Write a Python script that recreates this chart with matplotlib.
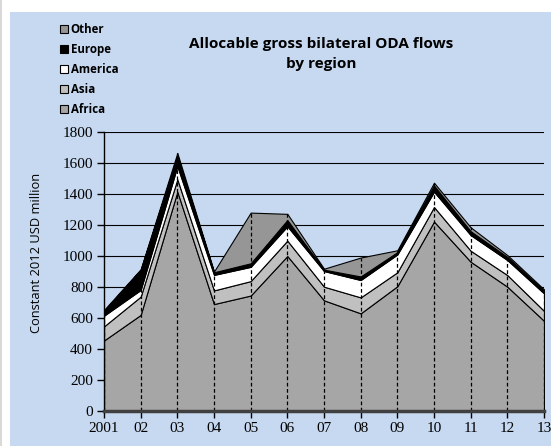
import matplotlib.pyplot as plt
import numpy as np
from matplotlib.patches import Patch, Rectangle

# years (tick labels) and values by region, constant 2012 USD million
years = ["2001", "02", "03", "04", "05", "06", "07", "08", "09", "10", "11", "12", "13"]
africa = [455, 620, 1415, 690, 745, 1000, 714, 630, 805, 1222, 963, 802, 582]
asia = [91, 118, 80, 88, 93, 99, 88, 103, 90, 94, 71, 75, 64]
america = [69, 43, 85, 100, 92, 93, 101, 112, 115, 99, 101, 97, 113]
europe = [30, 129, 65, 17, 23, 40, 9, 23, 15, 40, 25, 20, 16]
other = [7, 5, 20, 5, 327, 40, 6, 122, 12, 18, 25, 12, 10]

names = ["Africa", "Asia", "America", "Europe", "Other"]
colors = ["#a6a6a6", "#c0c0c0", "#ffffff", "#000000", "#969696"]

fig = plt.figure(figsize=(5.51, 4.46), dpi=100)
fig.patch.set_facecolor("white")
# light blue chart area
fig.patches.append(Rectangle((10 / 551, 0), 1, (446 - 12) / 446, transform=fig.transFigure,
                             facecolor="#c6d9f0", edgecolor="none", zorder=-10))
fig.patches.append(Rectangle((0, 0), 2 / 551, 1, transform=fig.transFigure,
                             facecolor="#d9d9d9", edgecolor="none", zorder=-10))

ax = fig.add_axes([104 / 551, 35 / 446, 440 / 551, 279 / 446])
ax.set_facecolor("none")

x = np.arange(len(years))
data = [africa, asia, america, europe, other]
ax.stackplot(x, data, colors=colors, edgecolor="black", linewidth=0.8, zorder=2)

# drop lines
total = np.sum(data, axis=0)
ax.vlines(x, 0, total, colors="black", linestyles=(0, (3, 2)), linewidth=0.9, zorder=3)

ax.set_xlim(0, len(years) - 1)
ax.set_ylim(0, 1800)
ax.set_yticks(range(0, 1801, 200))
ax.set_xticks(x)
ax.set_xticklabels(years)
ax.yaxis.grid(True, color="black", linewidth=0.8, zorder=0)
ax.set_axisbelow(True)

for s in ["top", "right"]:
    ax.spines[s].set_visible(False)
ax.spines["left"].set_linewidth(1.0)
ax.spines["bottom"].set_color("#404040")
ax.spines["bottom"].set_linewidth(2.5)
ax.spines["bottom"].set_zorder(4)
ax.tick_params(axis="both", direction="out", length=5, width=1, color="black",
               labelsize=11, pad=3)
for lab in ax.get_xticklabels() + ax.get_yticklabels():
    lab.set_fontfamily("Liberation Serif")

ax.set_ylabel("Constant 2012 USD million", fontsize=9.3, fontfamily="Open Sans")
ax.yaxis.set_label_coords(-0.139, 0.566)

fig.text(321 / 551, 1 - 54 / 446, "Allocable gross bilateral ODA flows\nby region",
         ha="center", va="center", fontsize=11, fontweight="bold", fontfamily="Open Sans",
         linespacing=1.5)

handles = [Patch(facecolor=colors[i], edgecolor="black", linewidth=0.8, label=names[i])
           for i in range(4, -1, -1)]
fig.legend(handles=handles, loc="upper left", bbox_to_anchor=(50 / 551, 1 - 13 / 446),
           frameon=False, handlelength=0.7, handleheight=0.7, handletextpad=0.2,
           labelspacing=0.6, prop={"family": "Open Sans", "weight": "bold", "size": 8.3})

fig.savefig("out.png", dpi=100, facecolor=fig.get_facecolor())
